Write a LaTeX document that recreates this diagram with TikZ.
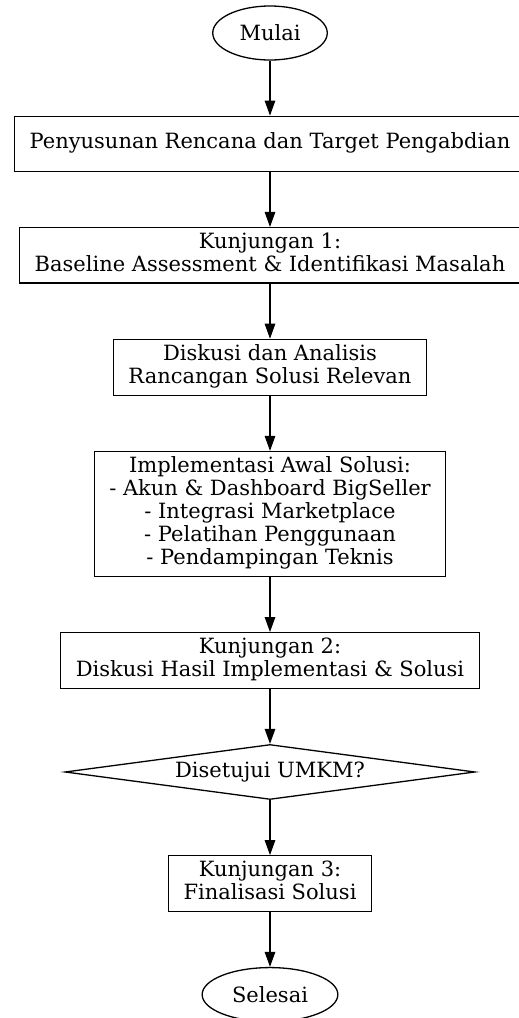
\documentclass[tikz,border=0pt]{standalone}
\usepackage{fontspec}
\setmainfont{DejaVu Serif}
\usepackage{tikz}
\usetikzlibrary{positioning}
\usetikzlibrary{shapes.geometric}
\usetikzlibrary{arrows.meta}

\begin{document}
\begin{tikzpicture}[
x=1pt, y=1pt,
node distance=55pt,
font=\fontsize{21}{23}\selectfont,
ovalnode/.style={ellipse, draw, line width=1.3pt, inner xsep=10pt, inner ysep=0pt, minimum height=54pt},
boxnode/.style={rectangle, draw, line width=1.3pt, align=center, inner xsep=15pt, inner ysep=5pt, minimum height=55pt,
  execute at begin node=\strut, execute at end node=\strut},
choicenode/.style={diamond, draw, line width=1.3pt, aspect=7.5, inner sep=0pt, minimum width=410pt, minimum height=55pt},
flow/.style={-{Triangle[length=15pt, width=10.5pt]}, line width=1.3pt},
]
\useasboundingbox (0,0) rectangle (519,-1018);

%Nodes
\node[ovalnode]   (mulai) at (270,-33) {Mulai};
\node[boxnode]    (plan)    [below=of mulai]   {Penyusunan Rencana dan Target Pengabdian};
\node[boxnode]    (visit1)  [below=of plan]    {Kunjungan 1:\\Baseline Assessment \& Identifikasi Masalah};
\node[boxnode]    (diskusi) [below=of visit1]  {Diskusi dan Analisis\\Rancangan Solusi Relevan};
\node[boxnode]    (impl)    [below=of diskusi] {Implementasi Awal Solusi:\\- Akun \& Dashboard BigSeller\\- Integrasi Marketplace\\- Pelatihan Penggunaan\\- Pendampingan Teknis};
\node[boxnode]    (visit2)  [below=of impl]    {Kunjungan 2:\\Diskusi Hasil Implementasi \& Solusi};
\node[choicenode] (cek)     [below=of visit2]  {Disetujui UMKM?};
\node[boxnode]    (visit3)  [below=of cek]     {Kunjungan 3:\\Finalisasi Solusi};
\node[ovalnode]   (selesai) [below=of visit3]  {Selesai};

%Lines
\draw[flow] (mulai)   -- (plan);
\draw[flow] (plan)    -- (visit1);
\draw[flow] (visit1)  -- (diskusi);
\draw[flow] (diskusi) -- (impl);
\draw[flow] (impl)    -- (visit2);
\draw[flow] (visit2)  -- (cek);
\draw[flow] (cek)     -- (visit3);
\draw[flow] (visit3)  -- (selesai);
\end{tikzpicture}
\end{document}
